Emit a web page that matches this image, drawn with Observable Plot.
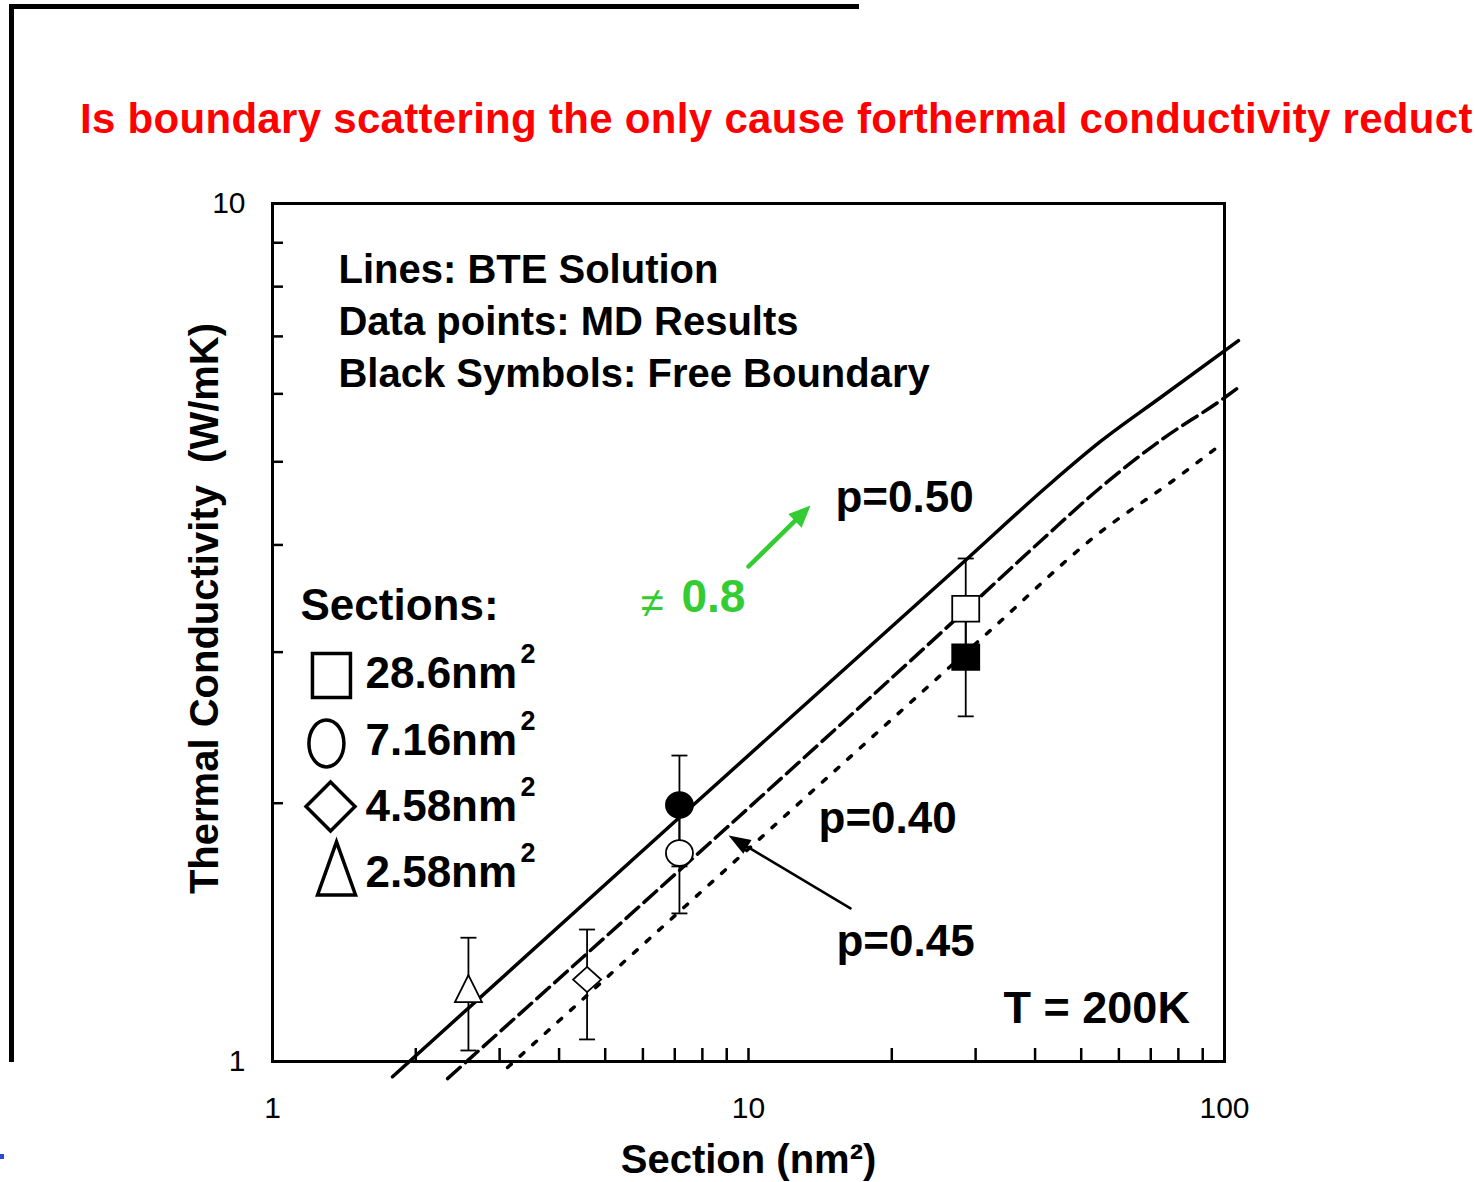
<!DOCTYPE html>
<html>
<head>
<meta charset="utf-8">
<script src="https://cdn.jsdelivr.net/npm/d3@7"></script>
<script src="https://cdn.jsdelivr.net/npm/@observablehq/plot@0.6"></script>
<style>
  html, body { margin: 0; padding: 0; background: #fff; overflow: hidden; }
  #wrap { position: relative; width: 1475px; height: 1182px; overflow: hidden; }
  #title { position: absolute; left: 80px; top: 95px; white-space: nowrap; line-height: 42px; letter-spacing: 0.3px;
           font: bold 42px "Liberation Sans", Arial, sans-serif; color: #ff0000; }
  #barTop { position: absolute; left: 9px; top: 4px; width: 850px; height: 5px; background: #000; }
  #barLeft { position: absolute; left: 9px; top: 4px; width: 5px; height: 1058px; background: #000; }
  #blue { position: absolute; left: 0; top: 1154px; width: 4px; height: 5px; background: #2a4bd7; }
</style>
</head>
<body>
<div id="wrap">
  <div id="chart"></div>
  <div id="barTop"></div>
  <div id="barLeft"></div>
  <div id="blue"></div>
  <div id="title">Is boundary scattering the only cause forthermal conductivity reduct</div>
</div>
<script>
// ---------- data ----------
const sectionTicks = [1, 10, 100];
const conductivityTicks = [1, 10];
const sectionMinorTicks = [2, 3, 4, 5, 6, 7, 8, 9, 10, 20, 30, 40, 50, 60, 70, 80, 90];
const conductivityMinorTicks = [2, 3, 4, 5, 6, 7, 8, 9];

// BTE solutions (lines)
const bteP050Section = [1.787, 7.196, 28.85, 43.1, 54.9, 73.4, 107.0];
const bteP050K       = [0.960, 1.930, 3.857, 4.717, 5.280, 5.941, 6.92];
const bteP045Section = [2.332, 28.85, 41.66, 54.9, 73.4, 99.5, 107.0];
const bteP045K       = [0.955, 3.373, 4.070, 4.667, 5.295, 5.926, 6.104];
const bteP040Section = [3.117, 32.72, 53.06, 79.6, 99.5];
const bteP040K       = [0.984, 3.205, 4.080, 4.794, 5.265];

// MD results (points with error bars)
const mdSection  = [28.6, 7.16, 4.58, 2.58, 28.6, 7.16];
const mdK        = [3.37, 1.75, 1.246, 1.216, 2.96, 1.99];
const mdKLow     = [2.96, 1.488, 1.061, 1.030, 2.525, 1.688];
const mdKHigh    = [3.857, 1.99, 1.425, 1.394, 3.37, 2.273];
const mdBoundary = ["fixed", "fixed", "fixed", "fixed", "free", "free"];
const mdShape    = ["square", "circle", "diamond", "triangle", "square", "circle"];

const legendShapes = ["square", "circle", "diamond", "triangle"];
const legendLabels = ["28.6nm", "7.16nm", "4.58nm", "2.58nm"];
const noteLines = ["Lines: BTE Solution", "Data points: MD Results", "Black Symbols: Free Boundary"];

// ---------- helpers ----------
const rows = (xs, ys) => xs.map((x, i) => ({x, y: ys[i]}));
const md = mdSection.map((s, i) => ({s, k: mdK[i], lo: mdKLow[i], hi: mdKHigh[i], b: mdBoundary[i], shape: mdShape[i]}));

function shape(kind, aspect) {
  return {draw(ctx, size) {
    const w = Math.sqrt(size / Math.PI), h = w * aspect, k = 0.5523;
    if (kind === "square") { ctx.rect(-w, -h, 2 * w, 2 * h); }
    else if (kind === "circle") {
      ctx.moveTo(w, 0);
      ctx.bezierCurveTo(w, k * h, k * w, h, 0, h);
      ctx.bezierCurveTo(-k * w, h, -w, k * h, -w, 0);
      ctx.bezierCurveTo(-w, -k * h, -k * w, -h, 0, -h);
      ctx.bezierCurveTo(k * w, -h, w, -k * h, w, 0);
      ctx.closePath();
    } else if (kind === "diamond") {
      ctx.moveTo(0, -h); ctx.lineTo(w, 0); ctx.lineTo(0, h); ctx.lineTo(-w, 0); ctx.closePath();
    } else if (kind === "triangle") {
      ctx.moveTo(0, -h); ctx.lineTo(w, h); ctx.lineTo(-w, h); ctx.closePath();
    } else if (kind === "cap") {
      ctx.moveTo(-w, 0); ctx.lineTo(w, 0);
    } else if (kind === "head") {
      ctx.moveTo(0, 0); ctx.lineTo(w, h); ctx.lineTo(-w, h); ctx.closePath();
    }
  }};
}

const dataSym = {square: shape("square", 0.95), circle: shape("circle", 0.95), diamond: shape("diamond", 0.9), triangle: shape("triangle", 1)};
const dataR = {square: 13.5, circle: 13.5, diamond: 14, triangle: 13.5};
const legendSym = {square: shape("square", 1.16), circle: shape("circle", 1.34), diamond: shape("diamond", 1), triangle: shape("triangle", 1.4)};
const legendR = {square: 19, circle: 17.5, diamond: 24.5, triangle: 19};
const legendSymPos = {square: [1.330, 2.818], circle: [1.298, 2.348], diamond: [1.324, 1.982], triangle: [1.363, 1.679]};
const legendTextY = [2.833, 2.366, 1.982, 1.661];
const noteY = [8.356, 7.265, 6.318];

const pointMarks = [];
for (const b of ["fixed", "free"]) for (const sh of legendShapes) {
  pointMarks.push(Plot.dot(md.filter(d => d.b === b && d.shape === sh), {
    x: "s", y: "k", symbol: dataSym[sh], r: dataR[sh],
    fill: b === "free" ? "black" : "white", stroke: "black", strokeWidth: 1.8
  }));
}

const legendMarks = legendShapes.map((sh) => Plot.dot([legendSymPos[sh]], {
  x: d => d[0], y: d => d[1], symbol: legendSym[sh], r: legendR[sh],
  fill: "white", stroke: "black", strokeWidth: 3.5
}));

const green = "#33cc33";
const font = "'Liberation Sans', Arial, sans-serif";

const chart = Plot.plot({
  width: 1475, height: 1182,
  marginLeft: 272, marginRight: 251, marginTop: 203, marginBottom: 121,
  x: {type: "log", domain: [1, 100]},
  y: {type: "log", domain: [1, 10]},
  style: {fontFamily: font, background: "transparent", color: "black"},
  marks: [
    Plot.axisX({ticks: sectionTicks, tickFormat: d => String(d), tickSize: 0, tickPadding: 35, fontSize: 30, label: null}),
    Plot.axisY({ticks: conductivityTicks, tickFormat: d => String(d), tickSize: 0, tickPadding: 27, fontSize: 30, label: null}),
    Plot.tickX(sectionMinorTicks, {x: d => d, insetTop: 858 - 13, strokeWidth: 2.5}),
    Plot.tickY(conductivityMinorTicks, {y: d => d, insetRight: 952 - 11, strokeWidth: 2.5}),
    Plot.frame({strokeWidth: 3}),
    Plot.text(["Section (nm²)"], {frameAnchor: "bottom", textAnchor: "middle", lineAnchor: "middle", dy: 99, fontSize: 40, fontWeight: "bold"}),
    Plot.text(["Thermal Conductivity\u00a0\u00a0(W/mK)"], {frameAnchor: "left", textAnchor: "middle", lineAnchor: "middle", rotate: -90, dx: -67, dy: -24, fontSize: 40, fontWeight: "bold"}),

    // BTE lines
    Plot.line(rows(bteP050Section, bteP050K), {x: "x", y: "y", strokeWidth: 3.5, curve: "monotone-x"}),
    Plot.line(rows(bteP045Section, bteP045K), {x: "x", y: "y", strokeWidth: 3.5, curve: "monotone-x", strokeDasharray: "17,7"}),
    Plot.line(rows(bteP040Section, bteP040K), {x: "x", y: "y", strokeWidth: 3.5, curve: "monotone-x", strokeDasharray: "5,12"}),

    // error bars
    Plot.ruleX(md, {x: "s", y1: "lo", y2: "hi", strokeWidth: 1.8}),
    Plot.dot(md, {x: "s", y: "lo", symbol: shape("cap", 1), r: 8, fill: "none", stroke: "black", strokeWidth: 1.8}),
    Plot.dot(md, {x: "s", y: "hi", symbol: shape("cap", 1), r: 8, fill: "none", stroke: "black", strokeWidth: 1.8}),
    ...pointMarks,

    // notes
    Plot.text(noteLines, {x: 1.376, y: (d, i) => noteY[i], text: d => d, textAnchor: "start", fontSize: 40, fontWeight: "bold"}),

    // legend
    Plot.text(["Sections:"], {x: 1.145, y: 3.40, text: d => d, textAnchor: "start", fontSize: 44, fontWeight: "bold"}),
    ...legendMarks,
    Plot.text(legendLabels, {x: 1.568, y: (d, i) => legendTextY[i], text: d => d, textAnchor: "start", fontSize: 44, fontWeight: "bold"}),
    Plot.text(legendLabels, {x: 1.568, y: (d, i) => legendTextY[i], text: () => "2", dx: 155, dy: -19, textAnchor: "start", fontSize: 27, fontWeight: "bold"}),

    // p labels
    Plot.text(["p=0.50"], {x: 15.23, y: 4.543, text: d => d, textAnchor: "start", fontSize: 44, fontWeight: "bold"}),
    Plot.text(["p=0.40"], {x: 14.03, y: 1.920, text: d => d, textAnchor: "start", fontSize: 44, fontWeight: "bold"}),
    Plot.text(["p=0.45"], {x: 15.30, y: 1.380, text: d => d, textAnchor: "start", fontSize: 44, fontWeight: "bold"}),
    Plot.text(["T = 200K"], {x: 34.34, y: 1.153, text: d => d, textAnchor: "start", fontSize: 45, fontWeight: "bold"}),

    // black arrow to p=0.45 line
    Plot.arrow([{x1: 16.38, y1: 1.508, x2: 9.08, y2: 1.834}], {x1: "x1", y1: "y1", x2: "x2", y2: "y2", headLength: 0, insetEnd: 14, strokeWidth: 2.5, stroke: "black"}),
    Plot.dot([[9.08, 1.834]], {x: d => d[0], y: d => d[1], symbol: shape("head", 2.75), r: 8, rotate: -59, fill: "black", stroke: "none"}),

    // green annotation
    Plot.arrow([{x1: 10.0, y1: 3.775, x2: 13.50, y2: 4.446}], {x1: "x1", y1: "y1", x2: "x2", y2: "y2", headLength: 0, insetEnd: 14, strokeWidth: 4.5, stroke: green}),
    Plot.dot([[13.50, 4.446]], {x: d => d[0], y: d => d[1], symbol: shape("head", 2.3), r: 9.5, rotate: 45.5, fill: green, stroke: "none"}),
    Plot.text(["≠"], {x: 5.93, y: 3.419, text: d => d, textAnchor: "start", fontSize: 42, fill: green}),
    Plot.text(["0.8"], {x: 7.23, y: 3.474, text: d => d, textAnchor: "start", fontSize: 46, fontWeight: "bold", fill: green})
  ]
});
document.getElementById("chart").appendChild(chart);
</script>
</body>
</html>
